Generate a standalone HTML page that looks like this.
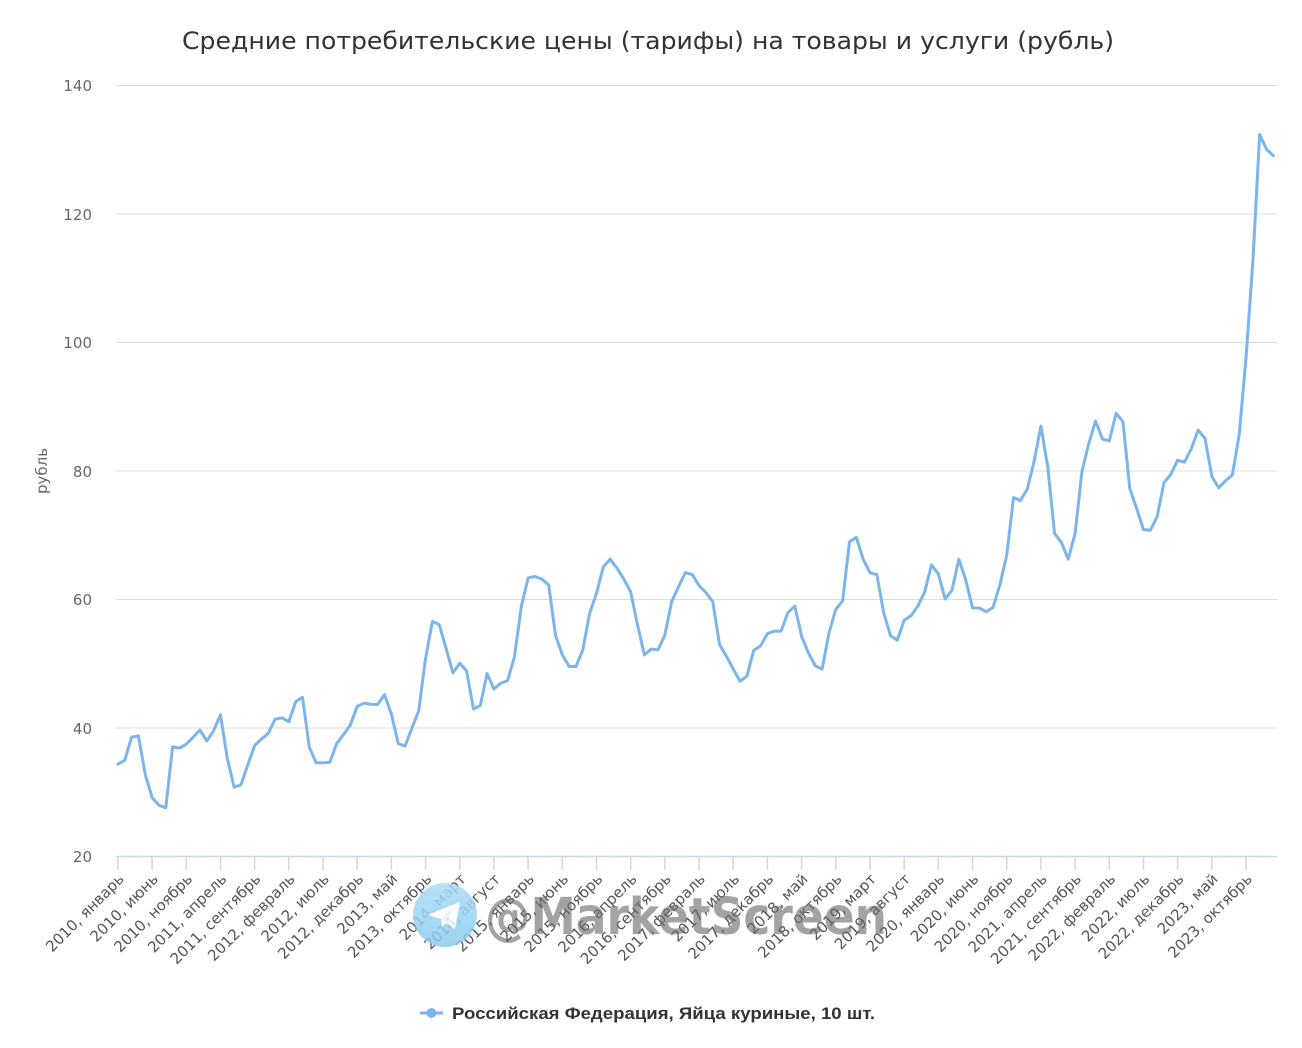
<!DOCTYPE html>
<html>
<head>
<meta charset="utf-8">
<style>
  html,body{margin:0;padding:0;background:#fff;}
  svg{display:block;}
  .yl{font-family:"DejaVu Sans","Liberation Sans",sans-serif;font-size:15px;fill:#666;}
  .xl{font-family:"DejaVu Sans","Liberation Sans",sans-serif;font-size:15px;fill:#555;}
</style>
</head>
<body>
<svg width="1302" height="1048" viewBox="0 0 1302 1048" xmlns="http://www.w3.org/2000/svg">
  <rect width="1302" height="1048" fill="#fff"/>
  <!-- title -->
  <text x="182" y="49" textLength="932" lengthAdjust="spacingAndGlyphs" font-family="DejaVu Sans, Liberation Sans, sans-serif" font-size="24" fill="#333">Средние потребительские цены (тарифы) на товары и услуги (рубль)</text>

  <!-- grid -->
  <g stroke="#dcdcdc" stroke-width="1">
    <line x1="116" y1="85.5" x2="1277" y2="85.5"/>
    <line x1="116" y1="214" x2="1277" y2="214"/>
    <line x1="116" y1="342.5" x2="1277" y2="342.5"/>
    <line x1="116" y1="471" x2="1277" y2="471"/>
    <line x1="116" y1="599.5" x2="1277" y2="599.5"/>
    <line x1="116" y1="728" x2="1277" y2="728"/>
  </g>

  <!-- y labels -->
  <g class="yl" text-anchor="end">
    <text x="92" y="91">140</text>
    <text x="92" y="220">120</text>
    <text x="92" y="348">100</text>
    <text x="92" y="477">80</text>
    <text x="92" y="605">60</text>
    <text x="92" y="734">40</text>
    <text x="92" y="862">20</text>
  </g>
  <text transform="translate(47,471) rotate(-90)" text-anchor="middle" font-family="DejaVu Sans, Liberation Sans, sans-serif" font-size="15" fill="#666">рубль</text>

  <!-- x axis -->
  <line x1="116" y1="856.5" x2="1277" y2="856.5" stroke="#ccd6eb" stroke-width="1.5"/>
  <path stroke="#ccd6eb" stroke-width="1.5" fill="none" d="M117.9 857V870M152.1 857V870M186.3 857V870M220.5 857V870M254.6 857V870M288.8 857V870M323 857V870M357.2 857V870M391.4 857V870M425.6 857V870M459.8 857V870M493.9 857V870M528.1 857V870M562.3 857V870M596.5 857V870M630.7 857V870M664.9 857V870M699 857V870M733.2 857V870M767.4 857V870M801.6 857V870M835.8 857V870M870 857V870M904.2 857V870M938.3 857V870M972.5 857V870M1006.7 857V870M1040.9 857V870M1075.1 857V870M1109.3 857V870M1143.5 857V870M1177.6 857V870M1211.8 857V870M1246 857V870"/>

  <!-- x labels -->
  <g class="xl" text-anchor="end">
    <text transform="translate(124.9,880) rotate(-45)">2010, январь</text>
    <text transform="translate(159.1,880) rotate(-45)">2010, июнь</text>
    <text transform="translate(193.3,880) rotate(-45)">2010, ноябрь</text>
    <text transform="translate(227.5,880) rotate(-45)">2011, апрель</text>
    <text transform="translate(261.6,880) rotate(-45)">2011, сентябрь</text>
    <text transform="translate(295.8,880) rotate(-45)">2012, февраль</text>
    <text transform="translate(330,880) rotate(-45)">2012, июль</text>
    <text transform="translate(364.2,880) rotate(-45)">2012, декабрь</text>
    <text transform="translate(398.4,880) rotate(-45)">2013, май</text>
    <text transform="translate(432.6,880) rotate(-45)">2013, октябрь</text>
    <text transform="translate(466.8,880) rotate(-45)">2014, март</text>
    <text transform="translate(500.9,880) rotate(-45)">2014, август</text>
    <text transform="translate(535.1,880) rotate(-45)">2015, январь</text>
    <text transform="translate(569.3,880) rotate(-45)">2015, июнь</text>
    <text transform="translate(603.5,880) rotate(-45)">2015, ноябрь</text>
    <text transform="translate(637.7,880) rotate(-45)">2016, апрель</text>
    <text transform="translate(671.9,880) rotate(-45)">2016, сентябрь</text>
    <text transform="translate(706,880) rotate(-45)">2017, февраль</text>
    <text transform="translate(740.2,880) rotate(-45)">2017, июль</text>
    <text transform="translate(774.4,880) rotate(-45)">2017, декабрь</text>
    <text transform="translate(808.6,880) rotate(-45)">2018, май</text>
    <text transform="translate(842.8,880) rotate(-45)">2018, октябрь</text>
    <text transform="translate(877,880) rotate(-45)">2019, март</text>
    <text transform="translate(911.2,880) rotate(-45)">2019, август</text>
    <text transform="translate(945.3,880) rotate(-45)">2020, январь</text>
    <text transform="translate(979.5,880) rotate(-45)">2020, июнь</text>
    <text transform="translate(1013.7,880) rotate(-45)">2020, ноябрь</text>
    <text transform="translate(1047.9,880) rotate(-45)">2021, апрель</text>
    <text transform="translate(1082.1,880) rotate(-45)">2021, сентябрь</text>
    <text transform="translate(1116.3,880) rotate(-45)">2022, февраль</text>
    <text transform="translate(1150.5,880) rotate(-45)">2022, июль</text>
    <text transform="translate(1184.6,880) rotate(-45)">2022, декабрь</text>
    <text transform="translate(1218.8,880) rotate(-45)">2023, май</text>
    <text transform="translate(1253,880) rotate(-45)">2023, октябрь</text>
  </g>

  <!-- series -->
  <g transform="translate(117.9,984.5) scale(6.837,-6.425)">
    <polyline fill="none" stroke="#7cb5ec" stroke-width="3" stroke-linejoin="round" stroke-linecap="round" vector-effect="non-scaling-stroke"
      points="0,34.3 1,34.9 2,38.5 3,38.7 4,32.7 5,29.1 6,27.9 7,27.5 8,37.0 9,36.8 10,37.4 11,38.5 12,39.6 13,37.9 14,39.5 15,42.0 16,35.2 17,30.7 18,31.1 19,34.2 20,37.2 21,38.2 22,39.1 23,41.3 24,41.5 25,40.9 26,44.0 27,44.7 28,36.9 29,34.5 30,34.5 31,34.6 32,37.5 33,38.9 34,40.4 35,43.3 36,43.8 37,43.6 38,43.6 39,45.1 40,42.1 41,37.5 42,37.1 43,39.9 44,42.6 45,50.8 46,56.5 47,56.0 48,52.3 49,48.5 50,50.0 51,48.8 52,42.9 53,43.4 54,48.4 55,46.0 56,46.9 57,47.3 58,51.0 59,58.8 60,63.3 61,63.5 62,63.1 63,62.2 64,54.4 65,51.3 66,49.5 67,49.5 68,52.1 69,57.8 70,60.9 71,65.0 72,66.2 73,64.8 74,63.1 75,61.1 76,56.0 77,51.3 78,52.2 79,52.1 80,54.4 81,59.6 82,61.9 83,64.1 84,63.8 85,62.1 86,61.0 87,59.6 88,52.9 89,51.1 90,49.1 91,47.2 92,48.0 93,52.0 94,52.7 95,54.6 96,55.0 97,55.0 98,57.9 99,58.9 100,54.2 101,51.6 102,49.6 103,49.1 104,54.7 105,58.4 106,59.7 107,68.9 108,69.6 109,66.2 110,64.1 111,63.8 112,57.9 113,54.3 114,53.6 115,56.7 116,57.4 117,58.9 118,61.1 119,65.3 120,63.9 121,60.0 122,61.4 123,66.2 124,63.0 125,58.6 126,58.6 127,58.0 128,58.7 129,62.2 130,66.8 131,75.8 132,75.3 133,77.1 134,81.4 135,86.9 136,80.6 137,70.2 138,68.8 139,66.2 140,70.2 141,79.8 142,84.2 143,87.7 144,84.9 145,84.6 146,88.9 147,87.6 148,77.2 149,74.1 150,70.8 151,70.7 152,72.8 153,78.1 154,79.4 155,81.6 156,81.3 157,83.4 158,86.3 159,85.0 160,79.1 161,77.3 162,78.4 163,79.3 164,85.5 165,97.5 166,112.5 167,132.3 168,130.0 169,129.0"/>
  </g>

  <!-- watermark -->
  <defs>
    <linearGradient id="tg" x1="0" y1="0" x2="0" y2="1">
      <stop offset="0" stop-color="#aadcf8"/>
      <stop offset="1" stop-color="#8ccbef"/>
    </linearGradient>
  </defs>
  <g opacity="0.85">
    <circle cx="445" cy="915" r="32" fill="url(#tg)"/>
    <path d="M427 915 L460 902 L455 929 L446 923 L442 927 L441 919 Z" fill="#ffffff"/>
    <path d="M441 919 L454 907 L446 923 Z" fill="#e6f3fb"/>
  </g>
  <text x="485" y="934" textLength="402" lengthAdjust="spacingAndGlyphs" font-family="DejaVu Sans, Liberation Sans, sans-serif" font-size="51" font-weight="bold" fill="#6a6a6a" fill-opacity="0.62">@MarketScreen</text>

  <!-- legend -->
  <line x1="420" y1="1013" x2="443" y2="1013" stroke="#7cb5ec" stroke-width="3"/>
  <circle cx="431.5" cy="1013" r="5" fill="#7cb5ec"/>
  <text x="452" y="1019" textLength="423" lengthAdjust="spacingAndGlyphs" font-family="Liberation Sans, DejaVu Sans, sans-serif" font-size="17" font-weight="bold" fill="#333">Российская Федерация, Яйца куриные, 10 шт.</text>
</svg>
</body>
</html>
